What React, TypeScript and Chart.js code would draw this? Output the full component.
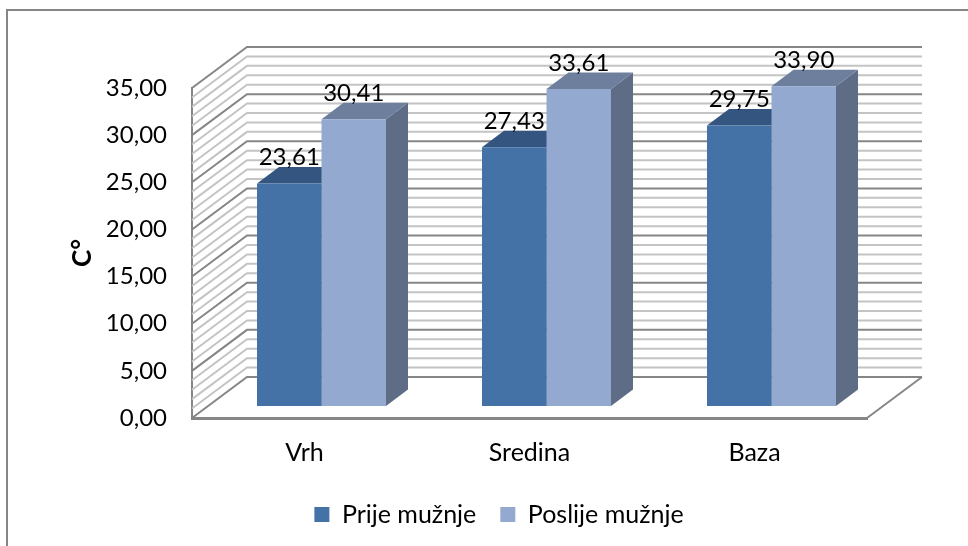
import React, { useEffect, useRef } from "react";
import { Chart, registerables } from "chart.js";

Chart.register(...registerables);

const categories = ["Vrh", "Sredina", "Baza"];
const prijeMuznje = [23.61, 27.43, 29.75];
const poslijeMuznje = [30.41, 33.61, 33.9];
const seriesNames = ["Prije mužnje", "Poslije mužnje"];
const axisTitle = "C°";
const yMax = 35;
const yMajorStep = 5;
const yMinorStep = 1;

const FONT = "Lato";
const NUM_SIZE = 24;
const TEXT_SIZE = 25;
const WALL = { dx: 55, dy: -41 };
const BAR_SHIFT = { dx: 17, dy: -12 };
const BAR_DEPTH = { dx: 22, dy: -16.5 };
const FACES = [
  { front: "#4472A6", top: "#34557F", side: "#34557F" },
  { front: "#93A9CF", top: "#6E7F9E", side: "#5E6C85" },
];
const MAJOR = "#868686";
const MINOR = "#C4C4C4";

const fmt = (v: number) => v.toFixed(2).replace(".", ",");

const threeD = {
  id: "threeD",
  beforeDatasetsDraw(chart: any) {
    const { ctx, scales, chartArea } = chart;
    const y = scales.y;
    ctx.save();
    for (let pass = 0; pass < 2; pass++) {
      for (let v = 0; v <= yMax; v += yMinorStep) {
        const major = v % yMajorStep === 0;
        if (major !== (pass === 1)) continue;
        const py = y.getPixelForValue(v);
        ctx.beginPath();
        ctx.moveTo(chartArea.left, py);
        ctx.lineTo(chartArea.left + WALL.dx, py + WALL.dy);
        ctx.lineTo(chartArea.right + WALL.dx, py + WALL.dy);
        ctx.strokeStyle = major ? MAJOR : MINOR;
        ctx.lineWidth = 2;
        ctx.stroke();
      }
    }
    // floor right edge
    const p0 = y.getPixelForValue(0);
    ctx.beginPath();
    ctx.moveTo(chartArea.right, p0);
    ctx.lineTo(chartArea.right + WALL.dx, p0 + WALL.dy);
    ctx.strokeStyle = MAJOR;
    ctx.lineWidth = 2;
    ctx.stroke();
    ctx.restore();

    ctx.save();
    ctx.translate(BAR_SHIFT.dx, BAR_SHIFT.dy);
    chart.data.datasets.forEach((_: any, i: number) => {
      const meta = chart.getDatasetMeta(i);
      meta.data.forEach((bar: any) => {
        const hw = bar.width / 2;
        const l = bar.x - hw;
        const r = bar.x + hw;
        const t = bar.y;
        const b = bar.base;
        const { dx, dy } = BAR_DEPTH;
        ctx.fillStyle = FACES[i].side;
        ctx.beginPath();
        ctx.moveTo(r, t);
        ctx.lineTo(r + dx, t + dy);
        ctx.lineTo(r + dx, b + dy);
        ctx.lineTo(r, b);
        ctx.closePath();
        ctx.fill();
        ctx.fillStyle = FACES[i].top;
        ctx.beginPath();
        ctx.moveTo(l, t);
        ctx.lineTo(l + dx, t + dy);
        ctx.lineTo(r + dx, t + dy);
        ctx.lineTo(r, t);
        ctx.closePath();
        ctx.fill();
      });
    });
    ctx.restore();
    ctx.save();
    ctx.translate(BAR_SHIFT.dx, BAR_SHIFT.dy);
  },
  afterDatasetsDraw(chart: any) {
    const { ctx } = chart;
    ctx.restore();
    ctx.save();
    ctx.fillStyle = "#000";
    ctx.font = `${NUM_SIZE}px ${FONT}`;
    ctx.textAlign = "center";
    ctx.textBaseline = "middle";
    chart.data.datasets.forEach((ds: any, i: number) => {
      chart.getDatasetMeta(i).data.forEach((bar: any, j: number) => {
        ctx.fillText(fmt(ds.data[j]), bar.x + BAR_SHIFT.dx, bar.y + BAR_SHIFT.dy - 26);
      });
    });
    ctx.restore();
  },
  afterDraw(chart: any) {
    const { ctx, width, height } = chart;
    ctx.save();
    ctx.strokeStyle = MAJOR;
    ctx.lineWidth = 2;
    ctx.beginPath();
    ctx.moveTo(7, height);
    ctx.lineTo(7, 10);
    ctx.lineTo(width, 10);
    ctx.stroke();
    ctx.restore();
  },
};

export default function App() {
  const ref = useRef<HTMLCanvasElement>(null);
  useEffect(() => {
    document.body.style.margin = "0";
    const chart = new Chart(ref.current!, {
      type: "bar",
      data: {
        labels: categories,
        datasets: [
          { label: seriesNames[0], data: prijeMuznje, backgroundColor: FACES[0].front, clip: false } as any,
          { label: seriesNames[1], data: poslijeMuznje, backgroundColor: FACES[1].front, clip: false } as any,
        ],
      },
      plugins: [threeD],
      options: {
        responsive: false,
        animation: false,
        layout: { padding: { left: 30, top: 88, right: 0, bottom: 9 } },
        datasets: { bar: { barPercentage: 1, categoryPercentage: 0.5733 } },
        plugins: {
          tooltip: { enabled: false },
          legend: {
            position: "bottom",
            labels: {
              boxWidth: 15,
              boxHeight: 15,
              padding: 24,
              color: "#000",
              font: { family: FONT, size: TEXT_SIZE },
            },
          },
        },
        scales: {
          x: {
            grid: { display: false, drawTicks: false },
            border: { color: MAJOR, width: 3 },
            ticks: { color: "#000", font: { family: FONT, size: TEXT_SIZE }, padding: 20 },
            afterFit: (s: any) => { s.height = 60; },
          },
          y: {
            min: 0,
            max: yMax,
            grid: { display: false, drawTicks: false },
            border: { color: MAJOR, width: 2 },
            ticks: {
              stepSize: yMajorStep,
              color: "#000",
              padding: 25,
              font: { family: FONT, size: NUM_SIZE },
              callback: (v: any) => fmt(Number(v)),
            },
            title: {
              display: true,
              text: axisTitle,
              color: "#000",
              font: { family: FONT, size: 26, weight: "bold" },
              padding: { top: 37, bottom: 0 },
            },
            afterFit: (s: any) => { s.width = 162; },
          },
          yRight: {
            position: "right",
            min: 0,
            max: yMax,
            grid: { display: false, drawTicks: false },
            border: { display: false },
            ticks: { display: false },
            afterFit: (s: any) => { s.width = 101; },
          },
        },
      },
    } as any);
    return () => chart.destroy();
  }, []);
  return <canvas ref={ref} width={968} height={546} style={{ display: "block" }} />;
}
